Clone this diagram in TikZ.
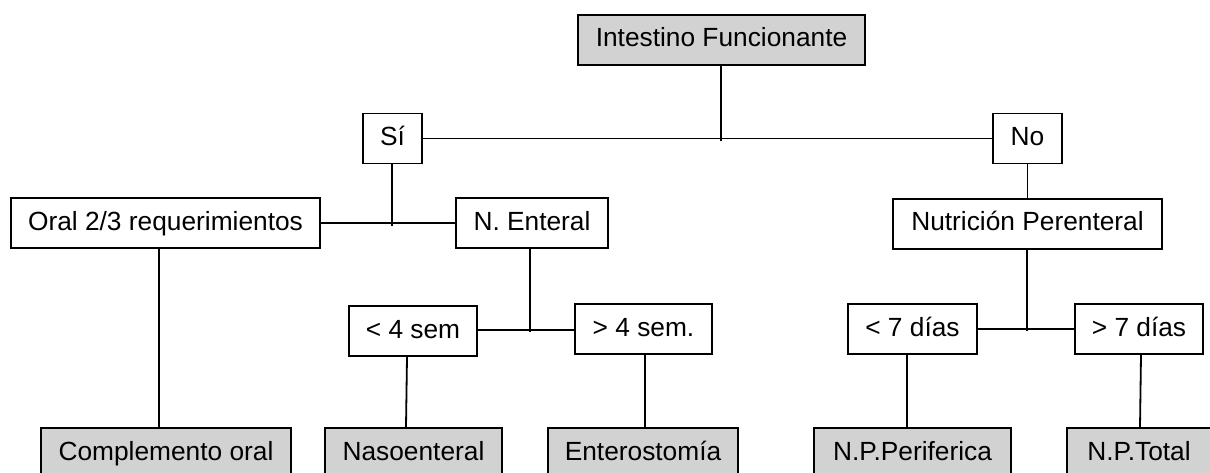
\documentclass[tikz,border=0pt]{standalone}
\usepackage{fontspec}
\setmainfont{Liberation Sans}
\definecolor{boxgray}{RGB}{210,210,210}
\begin{document}
\begin{tikzpicture}[x=1pt,y=-1pt,
  box/.style={draw=black, line width=1.8pt, minimum height=50pt, inner sep=0pt,
    text height=19pt, text depth=5pt, font=\fontsize{26.3}{30}\selectfont, anchor=center},
  result/.style={box, fill=boxgray},
  link/.style={line width=1.8pt}]
\useasboundingbox (0,0) rectangle (1210,473);
\clip (0,0) rectangle (1210,473);
% nodes
\node[result, minimum width=287pt] (top) at (721.5,40) {Intestino Funcionante};
\node[box, minimum width=59pt] (si) at (392.5,138.5) {Sí};
\node[box, minimum width=69pt] (no) at (1027.5,138.5) {No};
\node[box, minimum width=309pt] (oral) at (165.5,223) {Oral 2/3 requerimientos};
\node[box, minimum width=152pt] (nent) at (532,223) {N. Enteral};
\node[box, minimum width=269pt] (npar) at (1027.5,224) {Nutrición Perenteral};
\node[box, minimum width=128pt] (lt4) at (413,331) {< 4 sem};
\node[box, minimum width=137pt] (gt4) at (643.5,329) {> 4 sem.};
\node[box, minimum width=129pt] (lt7) at (912.5,329) {< 7 días};
\node[box, minimum width=128pt] (gt7) at (1139,329) {> 7 días};
\node[result, minimum width=250pt] (comp) at (166,453) {Complemento oral};
\node[result, minimum width=177pt] (naso) at (413.5,453) {Nasoenteral};
\node[result, minimum width=190pt] (ento) at (643,453) {Enterostomía};
\node[result, minimum width=197pt] (nperi) at (912.5,453) {N.P.Periferica};
\node[result, minimum width=144pt] (ntot) at (1139,453) {N.P.Total};
% junction coordinates
\coordinate (j1) at (721,141);
\coordinate (j2) at (392,226);
\coordinate (j3) at (530,332);
\coordinate (j4) at (1027,331);
% connectors
\draw[link] (top.south -| j1) -- (j1);
\draw[link] (si.east) -- (no.west);
\draw[link] (si.south -| j2) -- (j2);
\draw[link] (oral.east) -- (nent.west);
\draw[link] (no.south) -- (npar.north);
\draw[link] (nent.south -| j3) -- (j3);
\draw[link] (lt4.east |- 0,330) -- (gt4.west |- 0,330);
\draw[link] (npar.south -| j4) -- (j4);
\draw[link] (lt7.east) -- (gt7.west);
\draw[link] ([xshift=-6.5pt]oral.south) -- ([xshift=-7pt]comp.north);
\draw[link] ([xshift=-6pt]lt4.south) -- ([xshift=-7.5pt]naso.north);
\draw[link] ([xshift=1.5pt]gt4.south) -- ([xshift=2pt]ento.north);
\draw[link] ([xshift=-5.5pt]lt7.south) -- ([xshift=-5.5pt]nperi.north);
\draw[link] ([xshift=2pt]gt7.south) -- ([xshift=1pt]ntot.north);
\end{tikzpicture}
\end{document}
